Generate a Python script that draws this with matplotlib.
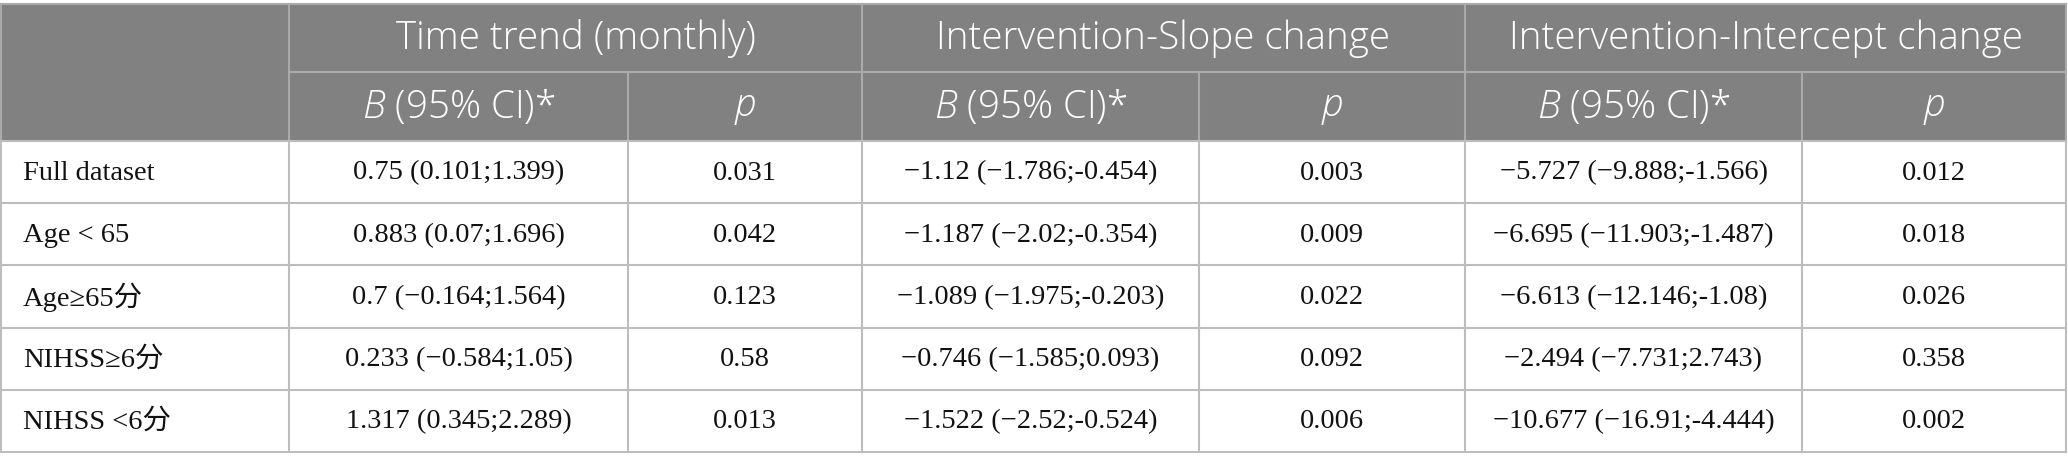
import matplotlib
matplotlib.use("Agg")
import matplotlib.pyplot as plt
from matplotlib.patches import Rectangle

# ---- data ----
row_labels = ["Full dataset", "Age < 65", "Age\u226565分", "NIHSS\u22656分", "NIHSS <6分"]
group_headers = ["Time trend (monthly)", "Intervention-Slope change", "Intervention-Intercept change"]
sub_headers = ["$\\mathit{B}$ (95% CI)*", "$\\mathit{p}$"]

time_B = ["0.75 (0.101;1.399)", "0.883 (0.07;1.696)", "0.7 (\u22120.164;1.564)",
          "0.233 (\u22120.584;1.05)", "1.317 (0.345;2.289)"]
time_p = ["0.031", "0.042", "0.123", "0.58", "0.013"]
slope_B = ["\u22121.12 (\u22121.786;-0.454)", "\u22121.187 (\u22122.02;-0.354)",
           "\u22121.089 (\u22121.975;-0.203)", "\u22120.746 (\u22121.585;0.093)",
           "\u22121.522 (\u22122.52;-0.524)"]
slope_p = ["0.003", "0.009", "0.022", "0.092", "0.006"]
icpt_B = ["\u22125.727 (\u22129.888;-1.566)", "\u22126.695 (\u221211.903;-1.487)",
          "\u22126.613 (\u221212.146;-1.08)", "\u22122.494 (\u22127.731;2.743)",
          "\u221210.677 (\u221216.91;-4.444)"]
icpt_p = ["0.012", "0.018", "0.026", "0.358", "0.002"]

# ---- layout (pixels) ----
W, H = 2068, 470
col_edges = [1, 289, 628, 862, 1199, 1465, 1802, 2066]
hdr_top, hdr_mid, hdr_bot = 4, 72, 141
row_h = 62.2
HEAD_BG = "#808180"
LINE = "#bdbdbd"
HLINE = "#a9aaa9"

plt.rcParams["mathtext.fontset"] = "custom"
plt.rcParams["mathtext.rm"] = "Open Sans:light"
plt.rcParams["mathtext.it"] = "Open Sans:italic:light"

fig = plt.figure(figsize=(W / 100, H / 100), dpi=100)
ax = fig.add_axes([0, 0, 1, 1])
ax.set_xlim(0, W)
ax.set_ylim(H, 0)
ax.axis("off")

# header background
ax.add_patch(Rectangle((col_edges[0], hdr_top), col_edges[-1] - col_edges[0],
                       hdr_bot - hdr_top, facecolor=HEAD_BG, edgecolor="none"))

hfont = dict(family=["Open Sans", "DejaVu Sans"], size=27.7, color="white", weight="light")
dfont = dict(family=["Liberation Serif", "Noto Sans CJK SC"], size=20.5, color="#111111")

# group headers
for g, title in enumerate(group_headers):
    x0, x1 = col_edges[1 + 2 * g], col_edges[3 + 2 * g]
    ax.text((x0 + x1) / 2, (hdr_top + hdr_mid) / 2 + 1, title, ha="center", va="center", **hfont)
    for k, sh in enumerate(sub_headers):
        a, b = col_edges[1 + 2 * g + k], col_edges[2 + 2 * g + k]
        ax.text((a + b) / 2, (hdr_mid + hdr_bot) / 2 + 1, sh, ha="center", va="center", **hfont)

# header lines
lw = 1.5
ax.plot([col_edges[0], col_edges[-1]], [hdr_top, hdr_top], color=HLINE, lw=lw)
ax.plot([col_edges[1], col_edges[-1]], [hdr_mid, hdr_mid], color=HLINE, lw=lw)
for i, x in enumerate(col_edges):
    if i in (0, 1, 3, 5, 7):
        ax.plot([x, x], [hdr_top, hdr_bot], color=HLINE, lw=lw)
    else:
        ax.plot([x, x], [hdr_mid, hdr_bot], color=HLINE, lw=lw)

# body
columns = [time_B, time_p, slope_B, slope_p, icpt_B, icpt_p]
n = len(row_labels)
bottom = hdr_bot + n * row_h
for r in range(n):
    y0 = hdr_bot + r * row_h
    yc = y0 + row_h / 2 + 1
    ax.text(col_edges[0] + 22, yc, row_labels[r], ha="left", va="center", **dfont)
    for c, col in enumerate(columns):
        xc = (col_edges[c + 1] + col_edges[c + 2]) / 2
        ax.text(xc, yc, col[r], ha="center", va="center", **dfont)
for r in range(n + 1):
    y = hdr_bot + r * row_h
    ax.plot([col_edges[0], col_edges[-1]], [y, y], color=LINE, lw=lw)
for x in col_edges:
    ax.plot([x, x], [hdr_bot, bottom], color=LINE, lw=lw)

fig.savefig("out.png", dpi=100)
